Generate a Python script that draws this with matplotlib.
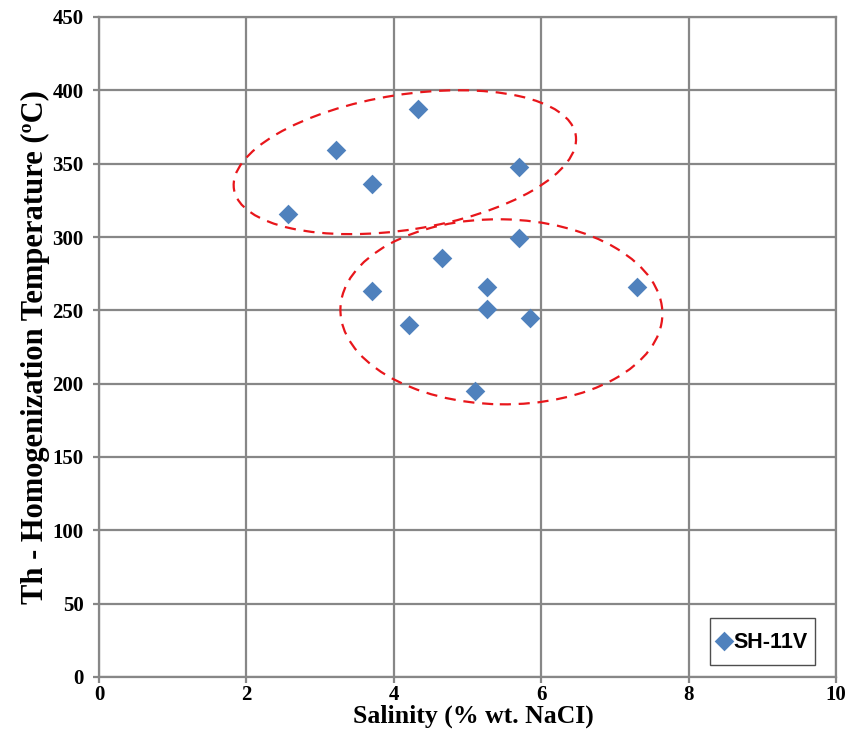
import matplotlib
matplotlib.use("Agg")
import matplotlib.pyplot as plt
from matplotlib.patches import Ellipse
from matplotlib.transforms import ScaledTranslation

salinity = [2.57, 3.22, 3.70, 4.33, 5.70, 5.70, 4.65, 3.70, 5.27, 5.27, 4.20, 5.85, 7.30, 5.10]
th_temp = [316, 359, 336, 387, 348, 299, 286, 263, 266, 251, 240, 245, 266, 195]
series_name = "SH-11V"
x_ticks = [0, 2, 4, 6, 8, 10]
y_ticks = list(range(0, 451, 50))

# group ellipses: centre (data), width/height (inches), angle (deg)
ellipses = [((4.15, 351), 3.46, 1.35, 9), ((5.46, 249), 3.22, 1.85, -1)]

grid_c = "#878787"
fig = plt.figure(figsize=(8.61, 7.35), dpi=100)
ax = fig.add_axes([99/861, 1-677/735, (836-99)/861, (677-17)/735])
ax.set_xlim(0, 10)
ax.set_ylim(0, 450)
ax.set_xticks(x_ticks)
ax.set_yticks(y_ticks)
ax.grid(True, color=grid_c, linewidth=1.6)
ax.set_axisbelow(True)
for s in ax.spines.values():
    s.set_color(grid_c)
    s.set_linewidth(1.6)
ax.tick_params(direction="out", length=4, width=1.6, color=grid_c)
ax.tick_params(axis="y", pad=7)
ax.tick_params(axis="x", pad=2)
for lab in ax.get_xticklabels() + ax.get_yticklabels():
    lab.set_fontfamily("Liberation Serif")
    lab.set_fontweight("bold")
    lab.set_fontsize(15)

ax.scatter(salinity, th_temp, marker="D", s=100, color="#4F81BD", zorder=3, label=series_name, linewidths=0)

for (cx, cy), w, h, ang in ellipses:
    tr = fig.dpi_scale_trans + ScaledTranslation(cx, cy, ax.transData)
    e = Ellipse((0, 0), w, h, angle=ang, transform=tr, fill=False,
                edgecolor="#E8161B", linewidth=1.6, linestyle=(0, (5, 3.5)), zorder=4)
    ax.add_patch(e)

ax.set_xlabel("Salinity (% wt. NaCI)", fontfamily="Liberation Serif", fontweight="bold", fontsize=18.5)
ax.xaxis.set_label_coords((473-99)/737, (677-705)/660)
ax.xaxis.label.set_verticalalignment("top")
ax.set_ylabel("Th - Homogenization Temperature (ºC)", fontfamily="Liberation Serif", fontweight="bold", fontsize=22)
ax.yaxis.set_label_coords((50-99)/737, (677-347)/660)

leg = ax.legend(loc="lower right", bbox_to_anchor=((815-99)/737, (677-665)/660), frameon=True, fancybox=False,
                prop={"family": "Liberation Sans", "weight": "bold", "size": 15.5},
                handletextpad=0.15, borderpad=0.35, handlelength=0.6, handleheight=1.9,
                borderaxespad=0, scatterpoints=1, scatteryoffsets=[0.22])
leg.get_frame().set_edgecolor("#222222")
leg.get_frame().set_linewidth(1.0)

fig.savefig("out.png", dpi=100, facecolor="white")
